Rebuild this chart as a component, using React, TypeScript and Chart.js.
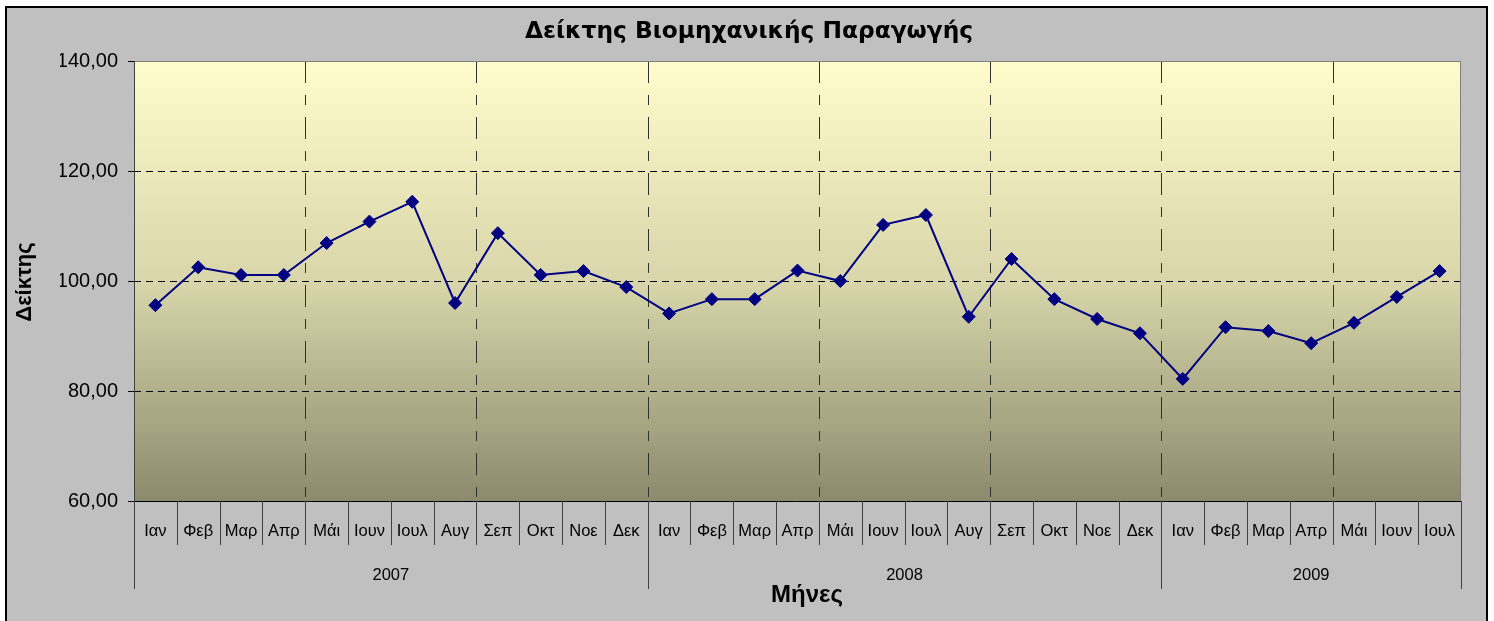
import React, { useEffect, useRef } from "react";
import { Chart, registerables } from "chart.js";

Chart.register(...registerables);

const TITLE = "Δείκτης Βιομηχανικής Παραγωγής";
const X_TITLE = "Μήνες";
const Y_TITLE = "Δείκτης";

const MONTHS = ["Ιαν", "Φεβ", "Μαρ", "Απρ", "Μάι", "Ιουν", "Ιουλ", "Αυγ", "Σεπ", "Οκτ", "Νοε", "Δεκ"];
const YEARS = ["2007", "2008", "2009"];
const MONTHS_PER_YEAR = [12, 12, 7];

const CATEGORIES: string[] = YEARS.flatMap((_, yi) => MONTHS.slice(0, MONTHS_PER_YEAR[yi]));

const VALUES_2007 = [95.6, 102.5, 101.1, 101.1, 106.9, 110.8, 114.4, 96.0, 108.7, 101.1, 101.8, 98.9];
const VALUES_2008 = [94.1, 96.7, 96.7, 101.9, 100.0, 110.2, 112.0, 93.5, 104.0, 96.7, 93.1, 90.5];
const VALUES_2009 = [82.2, 91.6, 90.9, 88.7, 92.4, 97.1, 101.8];
const VALUES = [...VALUES_2007, ...VALUES_2008, ...VALUES_2009];

const Y_MIN = 60;
const Y_MAX = 140;
const Y_STEP = 20;

const FONT = '"Liberation Sans", Arial, sans-serif';
const TITLE_FONT = '"DejaVu Sans", Verdana, sans-serif';

const decorPlugin = {
  id: "decor",
  beforeDraw(chart: any) {
    const { ctx, chartArea: a } = chart;
    ctx.save();
    ctx.fillStyle = "#ffffff";
    ctx.fillRect(0, 0, chart.width, chart.height);
    ctx.fillStyle = "#c0c0c0";
    ctx.fillRect(5, 6, 1483, 640);
    ctx.strokeStyle = "#000000";
    ctx.lineWidth = 2;
    ctx.strokeRect(6, 7, 1481, 640);

    const g = ctx.createLinearGradient(0, a.top, 0, a.bottom);
    g.addColorStop(0, "#fffdcc");
    g.addColorStop(0.5, "#d8d6aa");
    g.addColorStop(1, "#8c8a6c");
    ctx.fillStyle = g;
    ctx.fillRect(a.left, a.top, a.right - a.left, a.bottom - a.top);
    ctx.restore();
  },
  beforeDatasetsDraw(chart: any) {
    const { ctx, chartArea: a } = chart;
    const x = chart.scales.x;
    const n = CATEGORIES.length;
    const w = (a.right - a.left) / n;
    ctx.save();
    ctx.strokeStyle = "#303030";
    ctx.lineWidth = 1;
    ctx.setLineDash([22, 12, 10, 12]);
    for (let i = 4; i < n; i += 4) {
      const px = Math.round(x.getPixelForValue(i) - w / 2) + 0.5;
      ctx.beginPath();
      ctx.moveTo(px, a.top);
      ctx.lineTo(px, a.bottom);
      ctx.stroke();
    }
    ctx.setLineDash([]);
    ctx.strokeStyle = "#808080";
    ctx.strokeRect(a.left + 0.5, a.top + 0.5, a.right - a.left - 1, a.bottom - a.top);
    ctx.restore();
  },
  afterDraw(chart: any) {
    const { ctx, chartArea: a } = chart;
    const x = chart.scales.x;
    const n = CATEGORIES.length;
    const w = (a.right - a.left) / n;
    ctx.save();
    ctx.strokeStyle = "#000000";
    ctx.lineWidth = 1;
    ctx.beginPath();
    ctx.moveTo(a.left - 6, Math.round(a.bottom) + 0.5);
    ctx.lineTo(a.right, Math.round(a.bottom) + 0.5);
    ctx.stroke();
    ctx.strokeStyle = "#404040";
    ctx.beginPath();
    ctx.moveTo(Math.round(a.left) + 0.5, a.top);
    ctx.lineTo(Math.round(a.left) + 0.5, a.bottom);
    ctx.stroke();

    const yearBounds = new Set<number>();
    let acc = 0;
    yearBounds.add(0);
    MONTHS_PER_YEAR.forEach((m) => {
      acc += m;
      yearBounds.add(acc);
    });
    ctx.strokeStyle = "#404040";
    for (let i = 0; i <= n; i++) {
      const px = Math.round(i < n ? x.getPixelForValue(i) - w / 2 : x.getPixelForValue(n - 1) + w / 2) + 0.5;
      const len = yearBounds.has(i) ? 88 : 44;
      ctx.beginPath();
      ctx.moveTo(px, a.bottom);
      ctx.lineTo(px, a.bottom + len);
      ctx.stroke();
    }
    ctx.fillStyle = "#000000";
    ctx.textAlign = "center";
    ctx.textBaseline = "middle";
    ctx.font = `16.5px ${FONT}`;
    CATEGORIES.forEach((c, i) => {
      ctx.fillText(c, x.getPixelForValue(i), a.bottom + 30);
    });
    let start = 0;
    YEARS.forEach((yLabel, yi) => {
      const end = start + MONTHS_PER_YEAR[yi];
      const cx = (x.getPixelForValue(start) - w / 2 + x.getPixelForValue(end - 1) + w / 2) / 2;
      ctx.fillText(yLabel, cx, a.bottom + 74);
      start = end;
    });

    ctx.font = `bold 23.3px ${TITLE_FONT}`;
    ctx.fillText(TITLE, 749, 32);
    ctx.font = `bold 24px ${FONT}`;
    ctx.fillText(X_TITLE, 807, 595);
    ctx.save();
    ctx.translate(25, 282);
    ctx.rotate(-Math.PI / 2);
    ctx.font = `bold 22px ${FONT}`;
    ctx.fillText(Y_TITLE, 0, 0);
    ctx.restore();
    ctx.restore();
  },
};

export default function App() {
  const ref = useRef<HTMLCanvasElement | null>(null);
  useEffect(() => {
    if (!ref.current) return;
    const chart = new Chart(ref.current, {
      type: "line",
      data: {
        labels: CATEGORIES,
        datasets: [
          {
            data: VALUES,
            borderColor: "#000080",
            backgroundColor: "#000080",
            borderWidth: 2,
            pointStyle: "rectRot",
            pointRadius: 6.5,
            pointBorderWidth: 1,
            pointBorderColor: "#000080",
            pointBackgroundColor: "#000080",
            tension: 0,
          },
        ],
      },
      options: {
        responsive: false,
        animation: false,
        devicePixelRatio: 1,
        layout: { padding: { left: 60, top: 61, right: 33, bottom: 120 } },
        plugins: { legend: { display: false }, title: { display: false }, tooltip: { enabled: false } },
        scales: {
          x: { type: "category", offset: true, display: false },
          y: {
            min: Y_MIN,
            max: Y_MAX,
            afterFit: (s: any) => {
              s.width = 74;
            },
            ticks: {
              stepSize: Y_STEP,
              padding: 10,
              color: "#000000",
              font: { family: FONT, size: 20 },
              callback: (v: any) => Number(v).toFixed(2).replace(".", ","),
            },
            grid: {
              color: (c: any) =>
                c.tick && (c.tick.value === Y_MIN || c.tick.value === Y_MAX) ? "rgba(0,0,0,0)" : "#000000",
              tickColor: "#000000",
              tickLength: 6,
              lineWidth: 1,
            },
            border: { display: false, dash: [7, 5] },
          },
        },
      },
      plugins: [decorPlugin],
    });
    return () => chart.destroy();
  }, []);
  return (
    <div style={{ position: "fixed", left: 0, top: 0, width: 1494, height: 621 }}>
      <canvas ref={ref} width={1494} height={621} style={{ width: 1494, height: 621, display: "block" }} />
    </div>
  );
}
